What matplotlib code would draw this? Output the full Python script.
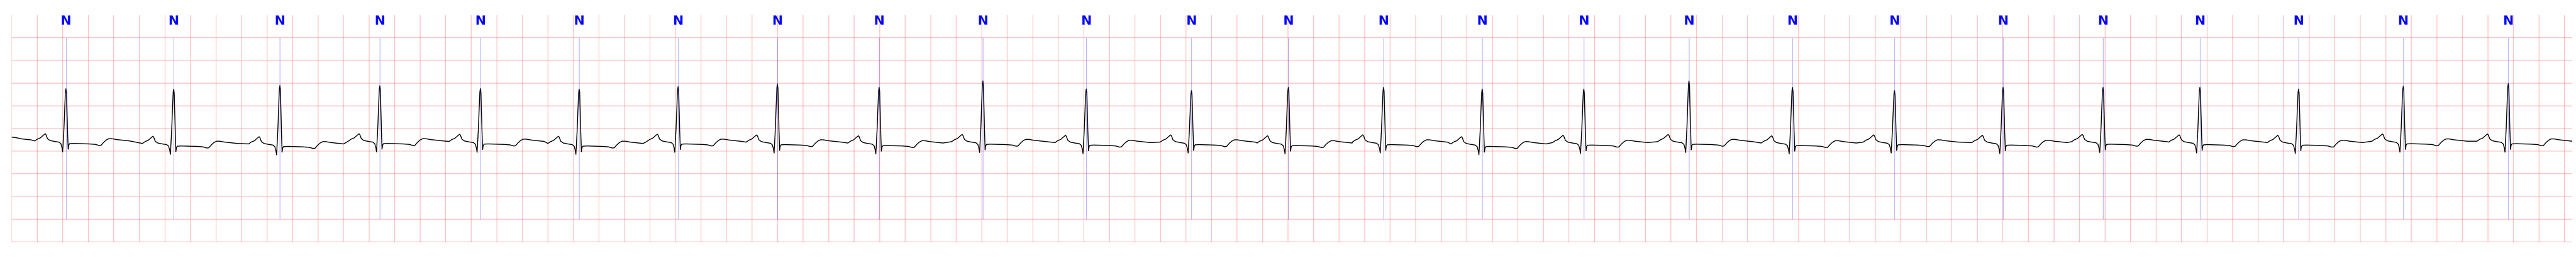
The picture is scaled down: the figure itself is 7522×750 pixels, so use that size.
import numpy as np
import matplotlib
matplotlib.use("Agg")
import matplotlib.pyplot as plt

r_times = [0.425, 1.269, 2.101, 2.884, 3.672, 4.446, 5.221, 5.999, 6.796, 7.609,
           8.419, 9.243, 10.002, 10.748, 11.521, 12.317, 13.141, 13.952, 14.751,
           15.602, 16.385, 17.144, 17.917, 18.737, 19.560]
r_amps = [0.875, 0.868, 0.948, 0.943, 0.880, 0.868, 0.923, 0.980, 0.907, 1.050,
          0.870, 0.835, 0.907, 0.907, 0.870, 0.870, 1.050, 0.907, 0.835, 0.907,
          0.907, 0.907, 0.870, 0.927, 0.990]
st_levels = [-0.335, -0.390, -0.400, -0.335, -0.345, -0.390, -0.345, -0.360, -0.380,
             -0.350, -0.370, -0.360, -0.380, -0.360, -0.400, -0.370, -0.350, -0.380,
             -0.360, -0.370, -0.350, -0.360, -0.370, -0.340, -0.340]
labels = ["N"] * len(r_times)

# beat shape: offset from R (s), level above ST (mV), share of R height
tmpl_off = [-0.245, -0.225, -0.200, -0.180, -0.163, -0.157, -0.145, -0.125, -0.090,
            -0.055, -0.040, -0.032, -0.026, -0.016, -0.009, -0.004, 0.0, 0.004,
            0.008, 0.012, 0.017, 0.022, 0.028, 0.060, 0.120, 0.180, 0.230, 0.260,
            0.275, 0.295, 0.315, 0.335, 0.360, 0.400, 0.450, 0.500]
tmpl_val = [0.06, 0.10, 0.13, 0.18, 0.22, 0.20, 0.11, 0.07, 0.05,
            0.035, 0.0, -0.08, -0.18, 0.0, 0.0, 0.0, 0.0, 0.0,
            0.0, 0.0, -0.12, -0.03, 0.0, 0.005, 0.0, -0.005, -0.015, -0.04,
            -0.035, 0.03, 0.08, 0.11, 0.11, 0.09, 0.075, 0.06]
tmpl_r = [0, 0, 0, 0, 0, 0, 0, 0, 0,
          0, 0, 0, 0, 0.28, 0.69, 0.95, 1.0, 0.93,
          0.60, 0.25, 0, 0, 0, 0, 0, 0, 0, 0,
          0, 0, 0, 0, 0, 0, 0, 0]

# start of the strip before the first beat
lead_t = [0.0, 0.03, 0.08, 0.15]
lead_v = [-0.19, -0.20, -0.23, -0.25]

t_end = 20.06

ts = list(lead_t)
vs = list(lead_v)
for r, a, b in zip(r_times, r_amps, st_levels):
    for off, tv, tr in zip(tmpl_off, tmpl_val, tmpl_r):
        ts.append(r + off)
        vs.append(b + tv + tr * (a - b))

fig = plt.figure(figsize=(7522 / 300, 750 / 300), dpi=300)
ax = fig.add_axes([34.3 / 7522, 44 / 750, 7476.4 / 7522, 662 / 750])

ax.set_xlim(0, t_end)
ax.set_ylim(-2.5, 2.5)
ax.set_xticks(np.arange(0, 20.01, 0.2))
ax.set_yticks(np.arange(-2.5, 2.5, 0.5))
ax.grid(True, color="red", alpha=0.3, linewidth=0.4)
ax.tick_params(length=0, labelbottom=False, labelleft=False)
for s in ax.spines.values():
    s.set_visible(False)

ax.plot(ts, vs, color="black", linewidth=0.6)

for r, lab in zip(r_times, labels):
    ax.vlines(r, -2.0, 2.0, color="blue", alpha=0.5, linewidth=0.25)
    ax.text(r, 2.29, lab, color="blue", fontsize=9, fontweight="bold",
            ha="center", va="baseline")

fig.savefig("out.png", dpi=300)
